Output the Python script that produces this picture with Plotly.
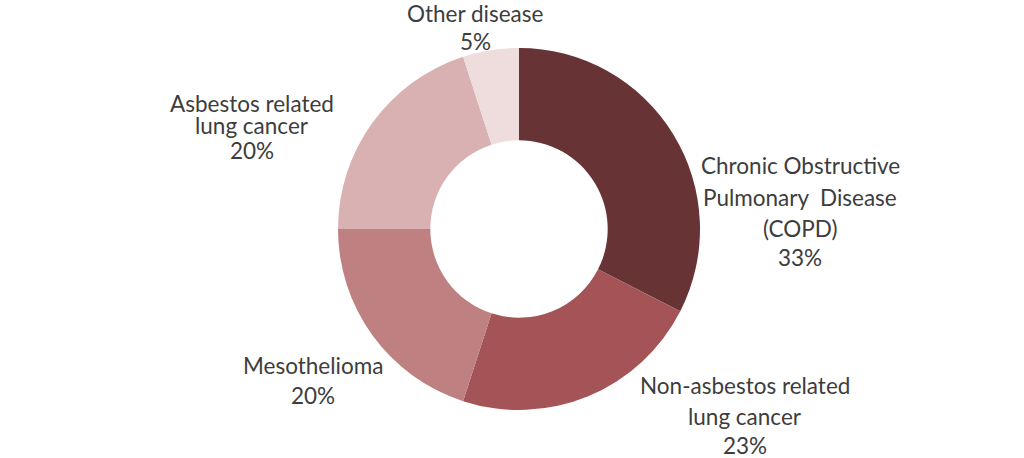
import plotly.graph_objects as go

labels = ["Chronic Obstructive Pulmonary Disease (COPD)", "Non-asbestos related lung cancer",
          "Mesothelioma", "Asbestos related lung cancer", "Other disease"]
values = [32.5, 22.5, 20, 20, 5]
pct_text = ["33%", "23%", "20%", "20%", "5%"]
label_lines = [
    ["Chronic Obstructive", "Pulmonary  Disease", "(COPD)"],
    ["Non-asbestos related", "lung cancer"],
    ["Mesothelioma"],
    ["Asbestos related", "lung cancer"],
    ["Other disease"],
]
colors = ["#673335", "#a45456", "#be8080", "#d9b1b2", "#efdddd"]

W, H = 1024, 458
cx, cy, r = 519, 229, 181

fig = go.Figure(go.Pie(
    labels=labels, values=values, hole=0.49, sort=False, direction="clockwise",
    rotation=0, marker=dict(colors=colors, line=dict(width=0)),
    textinfo="none", hoverinfo="label+percent", showlegend=False,
    domain=dict(x=[(cx - r) / W, (cx + r) / W], y=[1 - (cy + r) / H, 1 - (cy - r) / H]),
))

# label block positions (center x, list of line y centers) in pixels
blocks = [
    (800, [165, 197, 228, 257]),
    (745, [385, 416, 445]),
    (313, [365, 395]),
    (252, [103, 126, 150]),
    (475, [13, 42]),
]
for (bx, ys), lines, pct in zip(blocks, label_lines, pct_text):
    for txt, py in zip(lines + [pct], ys):
        fig.add_annotation(x=bx / W, y=1 - py / H, xref="paper", yref="paper",
                           text=txt, showarrow=False, xanchor="center", yanchor="middle",
                           font=dict(family="Lato", size=22.5, color="#3d3d3d"))

fig.update_layout(width=W, height=H, margin=dict(l=0, r=0, t=0, b=0),
                  paper_bgcolor="white", plot_bgcolor="white")
fig.write_html("out.html", config={"displayModeBar": False},
               post_script="document.body.style.margin='0';document.body.style.overflow='hidden';")
